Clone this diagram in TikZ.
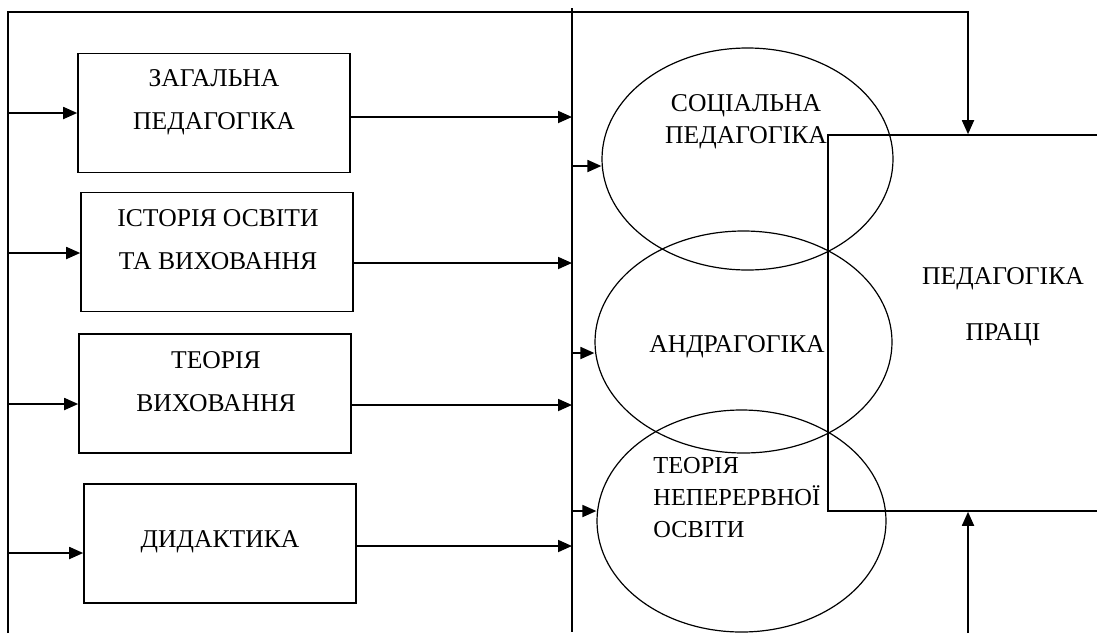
\documentclass[tikz,border=0pt]{standalone}
\usepackage{fontspec}
\setmainfont{Liberation Serif}
\usetikzlibrary{arrows.meta,shapes.geometric}
\tikzset{%
  discbox/.style  = {shape=rectangle, draw, line width=0.8pt,%
                     minimum width=136pt, minimum height=59.5pt, inner sep=0pt},%
  ellnode/.style  = {shape=ellipse, draw, line width=0.6pt, inner sep=0pt},%
  mainbox/.style  = {shape=rectangle, draw, line width=0.8pt,%
                     minimum width=178pt, minimum height=188pt, inner sep=0pt},%
  boxtext/.style  = {align=center, inner sep=0pt, font=\fontsize{12.8}{21.5}\selectfont},%
  elltext/.style  = {inner sep=0pt, font=\fontsize{12.8}{16.2}\selectfont},%
  feed/.style     = {line width=0.9pt, -{Triangle[length=7pt,width=6pt]}},%
  wire/.style     = {line width=0.8pt}%
}
\begin{document}
\begin{tikzpicture}[x=0.5pt,y=-0.5pt]
	\useasboundingbox (0,0) rectangle (1097,633);
	\clip (0,0) rectangle (1097,633);
	% source disciplines
	\node [discbox] (zag) at (214,113) {};
	\node [discbox] (ist) at (217,252) {};
	\node [discbox] (teo) at (215,393.5) {};
	\node [discbox] (did) at (220,543.5) {};
	\node [boxtext] (zagt) at (214,102) {ЗАГАЛЬНА\\ПЕДАГОГІКА};
	\node [boxtext] (istt) at (218,240) {ІСТОРІЯ ОСВІТИ\\ТА ВИХОВАННЯ};
	\node [boxtext] (teot) at (216,382) {ТЕОРІЯ\\ВИХОВАННЯ};
	\node [boxtext] (didt) at (220,542) {ДИДАКТИКА};
	% adjacent fields
	\node [ellnode, minimum width=145.5pt, minimum height=111pt] (soc) at (747.5,159) {};
	\node [ellnode, minimum width=148.5pt, minimum height=111pt] (and) at (743.5,342) {};
	\node [ellnode, minimum width=144.5pt, minimum height=111pt] (nep) at (741.5,521) {};
	\node [elltext, align=center] (soct) at (746,122) {СОЦІАЛЬНА\\ПЕДАГОГІКА};
	\node [elltext] (andt) at (737,347) {АНДРАГОГІКА};
	\node [elltext, align=left, anchor=west, font=\fontsize{12.2}{16.2}\selectfont] (nept) at (653,497.5) {ТЕОРІЯ\\НЕПЕРЕРВНОЇ\\ОСВІТИ};
	% labour pedagogy
	\node [mainbox] (prac) at (1006,323) {};
	\node [boxtext, font=\fontsize{12.8}{28}\selectfont] (pract) at (1003,307) {ПЕДАГОГІКА\\ПРАЦІ};
	% frame lines
	\coordinate (lbot) at (8,633);
	\coordinate (ttop) at (968,12);
	\coordinate (bbot) at (968,633);
	\coordinate (mtop) at (572,8);
	\coordinate (mbot) at (572,632);
	\draw [wire] (mtop) -- (mbot);
	\draw [feed] (lbot) |- (ttop) -- (ttop |- prac.north);
	\draw [feed] (bbot) -- (bbot |- prac.south);
	% inputs
	\coordinate (in1) at (8,113);
	\coordinate (in2) at (8,253);
	\coordinate (in3) at (8,404);
	\coordinate (in4) at (8,553);
	\draw [feed] (in1) -- (in1 -| zag.west);
	\draw [feed] (in2) -- (in2 -| ist.west);
	\draw [feed] (in3) -- (in3 -| teo.west);
	\draw [feed] (in4) -- (in4 -| did.west);
	% outputs to the middle line
	\coordinate (out1) at (572,117);
	\coordinate (out2) at (572,263);
	\coordinate (out3) at (572,405);
	\coordinate (out4) at (572,546);
	\draw [feed] (out1 -| zag.east) -- (out1);
	\draw [feed] (out2 -| ist.east) -- (out2);
	\draw [feed] (out3 -| teo.east) -- (out3);
	\draw [feed] (out4 -| did.east) -- (out4);
	% into the fields
	\coordinate (e1) at (572,166);
	\coordinate (e2) at (572,353);
	\coordinate (e3) at (572,511);
	\draw [feed] (e1) -- (e1 -| soc.west);
	\draw [feed] (e2) -- (e2 -| and.west);
	\draw [feed] (e3) -- (e3 -| nep.west);
\end{tikzpicture}
\end{document}
